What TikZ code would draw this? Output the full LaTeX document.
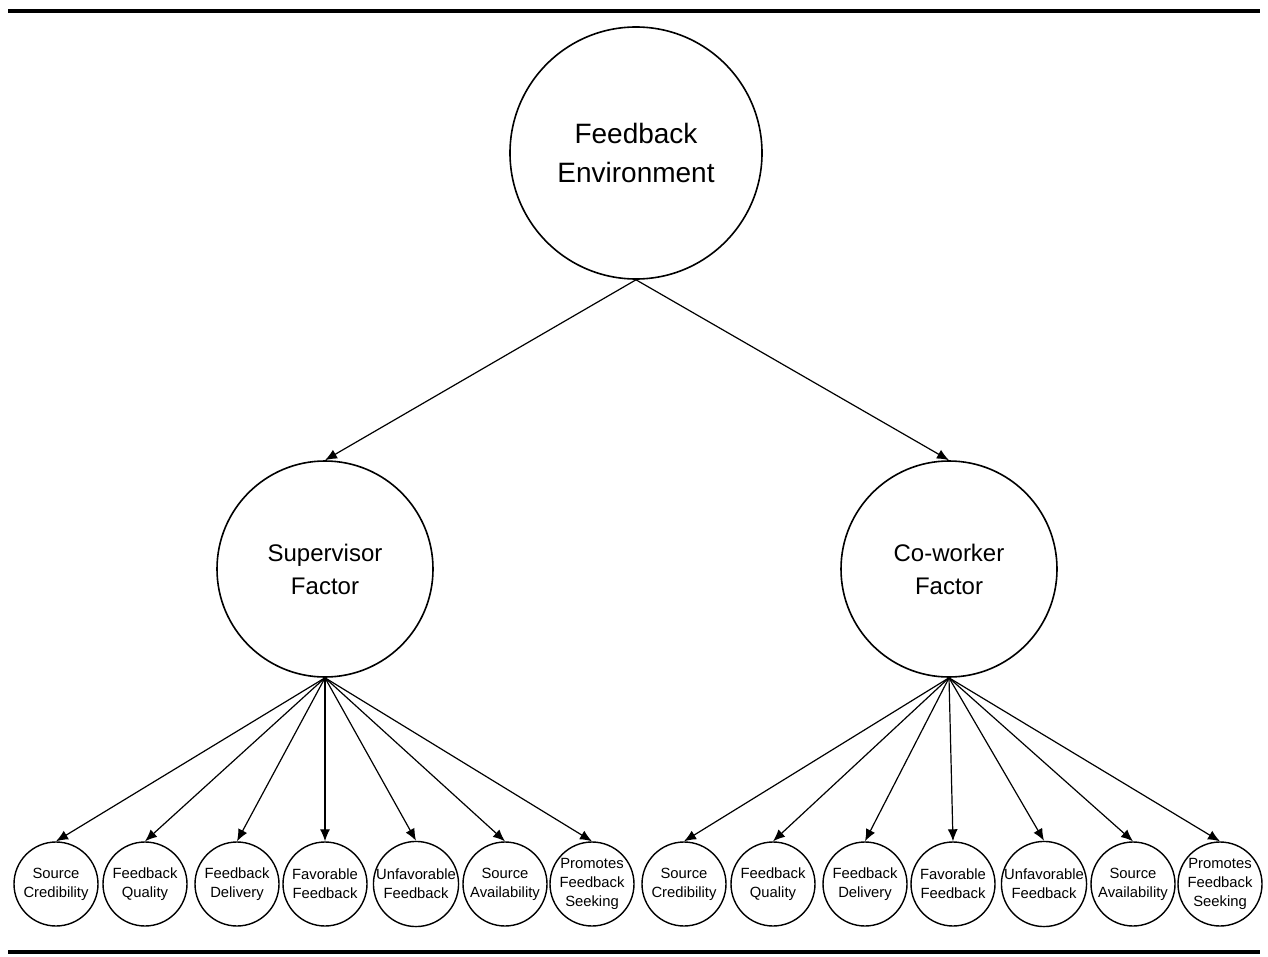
\documentclass[tikz,border=0pt]{standalone}
\usepackage{fontspec}
\setmainfont{Liberation Sans}
\usetikzlibrary{arrows.meta}
\begin{document}
\begin{tikzpicture}[x=0.5pt,y=-0.5pt,
  big/.style={circle,draw,line width=0.8pt,minimum size=126pt,inner sep=0pt,align=center,font=\fontsize{14}{19.5}\selectfont},
  mid/.style={circle,draw,line width=0.8pt,minimum size=108pt,inner sep=0pt,align=center,font=\fontsize{12}{16.5}\selectfont},
  sm/.style={circle,draw,line width=0.7pt,minimum size=42pt,inner sep=0pt,align=center,font=\fontsize{7.4}{9.5}\selectfont},
  arr/.style={-{Latex[length=6pt,width=5pt]},line width=0.6pt}]
\useasboundingbox (0,0) rectangle (1268,957);
\coordinate (tl) at (8,11); \coordinate (tr) at (1260,11);
\coordinate (bl) at (8,952); \coordinate (br) at (1260,952);
\draw[line width=1.6pt] (tl) -- (tr);
\draw[line width=1.6pt] (bl) -- (br);
\node[big] (fe) at (636,153) {Feedback\\Environment};
\node[mid] (sf) at (325,569) {Supervisor\\Factor};
\node[mid] (cf) at (949,569) {Co-worker\\Factor};
\draw[arr] (fe.south) -- (sf.north);
\draw[arr] (fe.south) -- (cf.north);
\foreach \p/\x in {s/0,c/628}{
  \node[sm] (\p1) at (56+\x,884) {Source\\Credibility};
  \node[sm] (\p2) at (145+\x,884) {Feedback\\Quality};
  \node[sm] (\p3) at (237+\x,884) {Feedback\\Delivery};
  \node[sm] (\p4) at (325+\x,884) {Favorable\\Feedback};
  \node[sm] (\p5) at (416+\x,884) {Unfavorable\\Feedback};
  \node[sm] (\p6) at (505+\x,884) {Source\\Availability};
  \node[sm] (\p7) at (592+\x,884) {Promotes\\Feedback\\Seeking};
}
\foreach \i in {1,...,7}{
  \draw[arr] (sf.south) -- (s\i.north);
  \draw[arr] (cf.south) -- (c\i.north);
}
\end{tikzpicture}
\end{document}
